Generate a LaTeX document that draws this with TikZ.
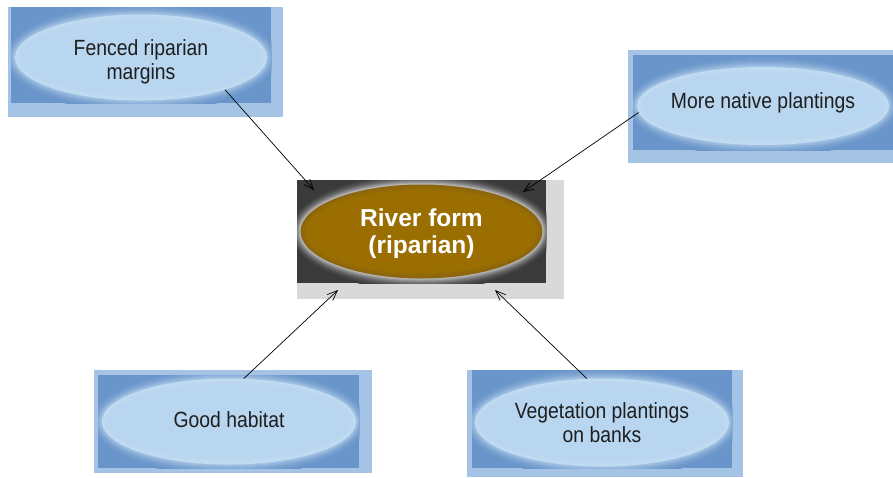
\documentclass[tikz,border=0pt]{standalone}
\usepackage{fontspec}
\setmainfont{Liberation Sans}
\newfontfamily\captionfont[FakeStretch=0.88]{Liberation Sans}
\usetikzlibrary{shapes.geometric,arrows.meta}

\definecolor{framelight}{HTML}{A5C3E5}
\definecolor{paneldark}{HTML}{6A95CA}
\definecolor{bubblein}{HTML}{B8D6EF}
\definecolor{bubblerim}{HTML}{C2DCF2}
\definecolor{coregrey}{HTML}{3A3A3A}
\definecolor{coreshadow}{HTML}{D9D9D9}
\definecolor{gold}{HTML}{9A6E00}
\definecolor{golddeep}{HTML}{8A6410}
\definecolor{inktext}{HTML}{1E1E1E}

% Soft-edged ellipse: rings fading out into the surround, and an inner rim.
% #1 centre, #2 x radius, #3 y radius, #4 surround, #5 glow at the edge,
% #6 inner rim colour, #7 body colour
\newcommand\haloellipse[7]{%
  \foreach \k in {12,...,1}{%
    \pgfmathsetmacro\hrx{#2+\k}\pgfmathsetmacro\hry{#3+\k}%
    \pgfmathtruncatemacro\hmix{100*((13-\k)/13)^2}%
    \fill[#5!\hmix!#4] #1 ellipse[x radius=\hrx, y radius=\hry];}%
  \foreach \k in {0,...,5}{%
    \pgfmathsetmacro\hrx{#2-\k}\pgfmathsetmacro\hry{#3-\k}%
    \pgfmathtruncatemacro\hmix{(6-\k)*100/6}%
    \fill[#6!\hmix!#7] #1 ellipse[x radius=\hrx, y radius=\hry];}%
  \pgfmathsetmacro\hrx{#2-6}\pgfmathsetmacro\hry{#3-6}%
  \fill[#7] #1 ellipse[x radius=\hrx, y radius=\hry];}

\begin{document}
\begin{tikzpicture}[x=1pt,y=-1pt,
  frame/.style={fill=framelight},
  panel/.style={fill=paneldark},
  outline/.style={ellipse, inner sep=0pt},
  caption/.style={align=center, inner sep=0pt, text=inktext,
    font=\captionfont\fontsize{22}{24}\selectfont},
  link/.style={draw=black, line width=0.7pt,
    -{Straight Barb[length=10pt,width=8pt]}}]

\useasboundingbox (0,0) rectangle (893,477);

% ---- Fenced riparian margins
\fill[frame] (8,7) rectangle (283,117);
\fill[panel] (11,7) rectangle (271,103);
\begin{scope}
  \clip (11,7) rectangle (271,103);
  \haloellipse{(141,57.5)}{126}{43}{paneldark}{bubblerim!75!paneldark}{bubblerim}{bubblein}
\end{scope}
\node[outline, minimum width=252pt, minimum height=86pt] (fencedshape) at (141,57.5) {};
\node[caption] (fenced) at (141,61.5) {Fenced riparian\\margins};

% ---- More native plantings
\fill[frame] (628,50) rectangle (893,163);
\fill[panel] (633,55) rectangle (893,150);
\begin{scope}
  \clip (633,55) rectangle (893,150);
  \haloellipse{(763,106)}{126}{39}{paneldark}{bubblerim!75!paneldark}{bubblerim}{bubblein}
\end{scope}
\node[outline, minimum width=252pt, minimum height=78pt] (nativeshape) at (763,106) {};
\node[caption] (native) at (763,103) {More native plantings};

% ---- Good habitat
\fill[frame] (94,370) rectangle (372,473);
\fill[panel] (98,375) rectangle (359,468);
\begin{scope}
  \clip (98,375) rectangle (359,468);
  \haloellipse{(229,421.5)}{127}{43}{paneldark}{bubblerim!75!paneldark}{bubblerim}{bubblein}
\end{scope}
\node[outline, minimum width=254pt, minimum height=86pt] (habitatshape) at (229,421.5) {};
\node[caption] (habitat) at (229,419.5) {Good habitat};

% ---- Vegetation plantings on banks
\fill[frame] (467,370) rectangle (743,477);
\fill[panel] (472,370) rectangle (732,468);
\begin{scope}
  \clip (472,370) rectangle (732,468);
  \haloellipse{(602,422.5)}{127}{44}{paneldark}{bubblerim!75!paneldark}{bubblerim}{bubblein}
\end{scope}
\node[outline, minimum width=254pt, minimum height=88pt] (bankshape) at (602,422.5) {};
\node[caption] (bank) at (602,422.5) {Vegetation plantings\\on banks};

% ---- River form (centre)
\fill[coreshadow] (297,180) rectangle (564,299);
\fill[coregrey] (297,180) rectangle (546,283);
\begin{scope}
  \clip (297,180) rectangle (546,283);
  \haloellipse{(421.5,231.5)}{121}{47}{coregrey}{white!75!coregrey}{golddeep}{gold}
\end{scope}
\node[outline, minimum width=242pt, minimum height=94pt] (rivershape) at (421.5,231.5) {};
\node[align=center, inner sep=0pt, text=white,
  font=\bfseries\fontsize{24.5}{27}\selectfont] (river) at (421.5,233.5) {River form\\(riparian)};

% ---- arrow tips on the centre panel
\coordinate (tipA) at (314,190);
\coordinate (tipB) at (523,192);
\coordinate (tipC) at (338,290);
\coordinate (tipD) at (495,290);

\draw[link] (fencedshape.-21.5) -- (tipA);
\draw[link] (nativeshape.183.7) -- (tipB);
\draw[link] (habitatshape.71.4) -- (tipC);
\draw[link] (bankshape.109.8) -- (tipD);
\end{tikzpicture}
\end{document}
